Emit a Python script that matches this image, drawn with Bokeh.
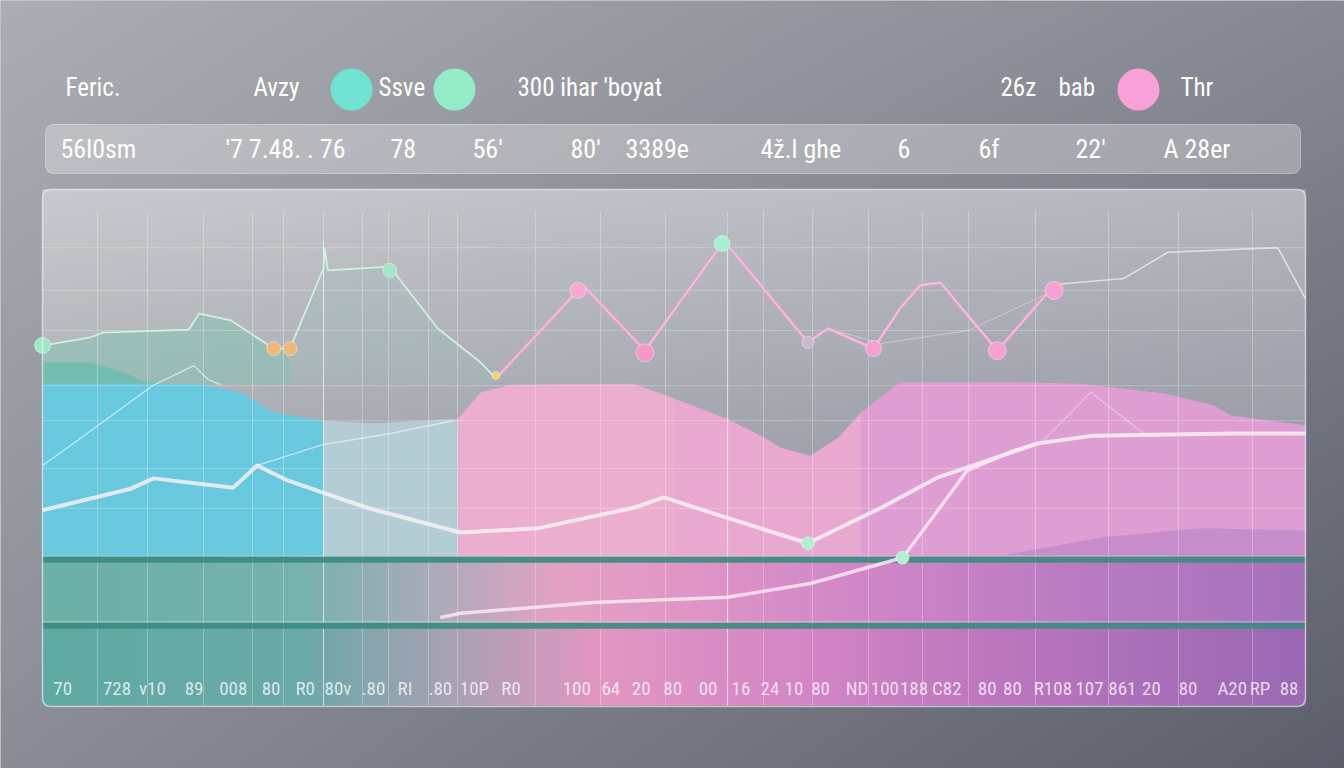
import numpy as np
from bokeh.plotting import figure
from bokeh.models import Range1d, BoxAnnotation
from bokeh.core.properties import value
from bokeh.embed import file_html
from bokeh.resources import INLINE

# ------------------------------------------------------------------ data
legend_labels = ["Feric.", "Avzy", "Ssve", "300 ihar 'boyat", "26z", "bab", "Thr"]
legend_swatches = ["#6fe2d3", "#93ecc6", "#f8a1d8"]
header_labels = ["56l0sm", "'7 7.48. . 76", "78", "56'", "80'", "3389e",
                 "4\u017e.l ghe", "6", "6f", "22'", "A 28er"]

# upper (marker) line
upper_x = [0, 3.8, 4.8, 11.6, 12.4, 13.9, 14.9, 18.3, 19.6, 22.25, 22.33, 22.6,
           27.5, 31.3, 34.7, 35.9, 42.4, 42.8, 47.7, 53.8, 54.5, 60.6, 62.2,
           65.8, 67.9, 69.5, 71.1, 75.6, 80.1, 80.8, 85.6, 89.1, 97.8, 100]
upper_y = [69.9, 71.5, 72.4, 73.0, 76.1, 75.3, 74.8, 69.3, 69.3, 84.9, 88.9, 84.5,
           85.2, 73.2, 66.6, 63.5, 80.6, 81.6, 68.9, 89.7, 88.7, 70.5, 73.2,
           69.3, 77.1, 81.6, 82.1, 68.9, 81.6, 81.9, 82.9, 88.0, 88.9, 79.0]
marker_x = [0, 18.3, 19.6, 27.5, 35.9, 42.4, 47.7, 53.8, 60.6, 65.8, 75.6, 80.1]
marker_y = [69.9, 69.3, 69.3, 84.5, 64.1, 80.6, 68.5, 89.7, 70.5, 69.3, 68.9, 80.6]

# middle (thick white) line
mid_x = [0, 7.0, 8.8, 15.1, 17.0, 19.4, 25.7, 33.1, 39.2, 46.8, 49.2, 53.1,
         60.6, 66.4, 70.9, 78.8, 83.2, 94.3, 100]
mid_y = [37.9, 42.1, 44.1, 42.3, 46.6, 43.7, 38.4, 33.6, 34.4, 38.4, 40.4, 37.3,
         31.5, 38.4, 44.3, 50.9, 52.4, 52.8, 52.8]
branch_x = [17.0, 22.25, 27.55, 32.5]
branch_y = [46.6, 50.7, 52.8, 55.3]

# lower line
low_x = [31.5, 33.1, 43.6, 54.2, 60.8, 68.1, 70.9, 73.2, 76.9, 78.8]
low_y = [17.1, 17.9, 20.0, 21.0, 23.7, 28.7, 37.9, 45.6, 49.5, 50.9]
low_marker = ([60.6, 68.1], [31.5, 28.7])

# thin lines
thin_x = [0, 2.8, 8.7, 12.0, 13.1, 14.1]
thin_y = [46.6, 51.5, 62.1, 66.0, 63.3, 62.3]
spike_x = [79.0, 83.0, 87.2]
spike_y = [50.9, 60.8, 52.8]
faint_x = [62.2, 66.4, 73.3, 80.1]
faint_y = [73.2, 70.3, 72.8, 80.6]

# areas
area_base = 29.1
dteal_x = [0, 3.8, 6.4, 7.8, 9.3]
dteal_y = [66.6, 66.6, 64.7, 63.1, 62.5]
teal_x = [0, 12.5, 15.7, 18.3, 22.25]
teal_y = [62.5, 62.5, 60.8, 56.9, 55.3]
pale_x = [22.25, 26.2, 32.9]
pale_y = [55.3, 54.8, 55.7]
pink_x = [32.9, 34.7, 37.1, 46.8, 50.0, 54.2, 56.9, 58.4, 60.8, 63.0, 64.8,
          67.9, 78.2, 82.2, 88.8, 92.7, 94.1, 100]
pink_y = [55.7, 60.8, 62.3, 62.5, 59.6, 55.7, 52.4, 50.1, 48.5, 52.0, 56.9,
          62.7, 62.7, 62.5, 60.6, 58.3, 56.3, 54.4]
shade_x = [75.9, 83.8, 91.7, 100]
shade_y = [29.1, 32.6, 34.4, 34.0]

# bands, grid, ticks
band_levels = [28.3, 15.5]
grid_x = [4.35, 8.31, 12.75, 16.63, 19.08, 22.25, 25.34, 27.40, 30.56, 32.86,
          39.03, 44.18, 49.33, 54.24, 57.09, 60.97, 65.40, 69.68, 73.32, 78.62,
          84.40, 89.94, 95.80]
grid_y = [88.9, 80.6, 72.8, 62.1, 55.3, 46.0, 38.3]
tick_labels = ["70", "728", "v10", "89", "008", "80", "R0", "80v", ".80", "RI",
               ".80", "10P", "R0", "100", "64", "20", "80", "00", "16", "24",
               "10", "80", "ND", "100", "188", "C82", "80", "80", "R108", "107",
               "861", "20", "80", "A20", "RP", "88"]
tick_x = [1.6, 5.9, 8.7, 12.0, 15.1, 18.1, 20.8, 23.4, 26.2, 28.7, 31.5, 34.2,
          37.1, 42.3, 45.0, 47.4, 49.9, 52.7, 55.3, 57.6, 59.5, 61.6, 64.5, 66.7,
          69.0, 71.6, 74.8, 76.8, 80.0, 82.9, 85.5, 87.8, 90.7, 94.2, 96.4, 98.7]

# ------------------------------------------------------------------ helpers
W, H = 1344, 768
FONT = value("Liberation Sans Narrow, Roboto Condensed, Roboto, sans-serif")


def rgb(h):
    return np.array([int(h[i:i + 2], 16) for i in (1, 3, 5)], float)


def to_img(col):
    hh, ww = col.shape[:2]
    a = np.zeros((hh, ww, 4), dtype=np.uint8)
    a[..., :3] = np.clip(col, 0, 255).astype(np.uint8)
    a[..., 3] = 255
    return a.view(np.uint32).reshape(hh, ww)


def stops(xs, pos, cols):
    c = np.array([rgb(k) for k in cols])
    return np.stack([np.interp(xs, pos, c[:, i]) for i in range(3)], axis=-1)


def PY(sy):  # page pixel row -> main y data
    return H - sy


p = figure(width=W, height=H, x_range=Range1d(0, W), y_range=Range1d(0, H),
           output_backend="svg", toolbar_location=None, min_border=0,
           x_axis_location=None, y_axis_location=None)
p.grid.visible = False
p.outline_line_color = None
p.background_fill_color = "#9a9ca4"
p.border_fill_color = "#9a9ca4"
# chart scale: x 0..100 -> px 42..1305 ; y 0..100 -> px 705..190
p.extra_x_ranges = {"cx": Range1d(-42 / 12.63, (W - 42) / 12.63)}
p.extra_y_ranges = {"cy": Range1d((705 - H) / 5.15, 705 / 5.15)}
C = dict(x_range_name="cx", y_range_name="cy")

# page background gradient
bw, bh = 336, 192
u = (((np.arange(bw) + 0.5) * W / bw) / W)[None, :, None]
v = ((H - (np.arange(bh) + 0.5) * H / bh) / H)[:, None, None]
tl, tr, bl, br = rgb("#acaeb4"), rgb("#868893"), rgb("#8a8d96"), rgb("#5c5f6b")
top = tl + (tr - tl) * u
bot = bl + (br - bl) * u
p.image_rgba(image=[to_img(top + (bot - top) * v)], x=0, y=0, dw=W, dh=H, level="image")

# panel interior gradient
pw, ph = 316, 130
sx = 42 + (np.arange(pw) + 0.5) / pw * 1263
sy = 705 - (np.arange(ph) + 0.5) / ph * 515.4
u = ((sx - 42) / 1263)[None, :, None]
v = np.clip((sy - 190) / 257, 0, 1)[:, None, None]
tl, tr, ml, mr = rgb("#c8cacf"), rgb("#b5b7be"), rgb("#abaeb4"), rgb("#999ca6")
top = tl + (tr - tl) * u
bot = ml + (mr - ml) * u
p.image_rgba(image=[to_img(top + (bot - top) * v)], x=0, y=0, dw=100, dh=100.2, **C)

# header bar and legend row
p.add_layout(BoxAnnotation(left=45, right=1300, bottom=PY(173), top=PY(124),
                           fill_color="white", fill_alpha=0.28, line_color="white",
                           line_alpha=0.35, border_radius=8, level="underlay"))
header_x = [60, 225, 390, 472, 570, 625, 760, 897, 978, 1075, 1163]
p.text(x=header_x, y=PY(148), text=header_labels, text_font=FONT,
       text_font_size="26px", text_color="white", text_baseline="middle",
       text_align="left")
legend_x = [65, 253, 378, 517, 1000, 1058, 1180]
p.text(x=legend_x, y=PY(87), text=legend_labels, text_font=FONT,
       text_font_size="25px", text_color="white", text_baseline="middle",
       text_align="left")
p.scatter(x=[351, 454, 1138], y=PY(89), size=42, fill_color=legend_swatches,
          line_color=None)

# areas
p.varea(x=dteal_x, y1=62.5, y2=dteal_y, fill_color="#63b6ab", fill_alpha=0.9, **C)
p.varea(x=upper_x[:9], y1=62.5, y2=upper_y[:9], fill_color="#7cc6b4",
        fill_alpha=0.45, **C)
p.varea(x=upper_x[8:16], y1=62.5, y2=upper_y[8:16], fill_color="#90c8bc",
        fill_alpha=0.2, **C)
p.varea(x=teal_x, y1=area_base, y2=teal_y, fill_color="#68c8de", **C)
p.varea(x=pale_x, y1=area_base, y2=pale_y, fill_color="#b4ccd3", **C)
p.varea(x=pink_x, y1=area_base, y2=pink_y, fill_color="#e9a8d0", **C)
p.varea(x=pink_x[:5], y1=area_base, y2=pink_y[:5], fill_color="#f6c0c8",
        fill_alpha=0.25, **C)
p.varea(x=pink_x[10:], y1=area_base, y2=pink_y[10:], fill_color="#c888d4",
        fill_alpha=0.3, **C)
p.varea(x=shade_x, y1=area_base, y2=shade_y, fill_color="#9e6cc0",
        fill_alpha=0.35, **C)

# lower banded zone gradient
zw, zh = 316, 75
sx = 42 + (np.arange(zw) + 0.5) / zw * 1263
sy = 705 - (np.arange(zh) + 0.5) / zh * 150
midc = stops(sx, [42, 300, 450, 560, 700, 900, 1100, 1305],
             ["#6cb0a8", "#76b2ae", "#b2aabb", "#e4a2c4", "#e094c6", "#cc84c6",
              "#b87ac2", "#a672bc"])
botc = stops(sx, [42, 300, 450, 600, 800, 1000, 1305],
             ["#5faaa3", "#6aa9a9", "#a8a2b4", "#e296c2", "#d486c6", "#bc76be",
              "#9a68b4"])
col = np.where((sy < 623)[:, None, None], midc[None, :, :], botc[None, :, :])
p.image_rgba(image=[to_img(col)], x=0, y=0, dw=100, dh=area_base, **C)

# grid
p.segment(x0=grid_x, y0=0, x1=grid_x, y1=96, line_color="white", line_alpha=0.28,
          line_width=1, **C)
p.segment(x0=0, y0=grid_y, x1=100, y1=grid_y, line_color="white", line_alpha=0.25,
          line_width=1, **C)
p.segment(x0=[22.25, 54.24], y0=0, x1=[22.25, 54.24], y1=[90, 90],
          line_color="white", line_alpha=0.45, line_width=1.2, **C)

# bands
p.segment(x0=0, y0=band_levels, x1=100, y1=band_levels, line_color="#3c8c80",
          line_alpha=0.92, line_width=6, **C)
p.segment(x0=0, y0=[b + 0.75 for b in band_levels], x1=100,
          y1=[b + 0.75 for b in band_levels], line_color="#cfeee8",
          line_alpha=0.55, line_width=1, **C)

# lines
p.line(thin_x, thin_y, line_color="#e0f6f6", line_alpha=0.8, line_width=1.2, **C)
p.line(spike_x, spike_y, line_color="white", line_alpha=0.55, line_width=1, **C)
p.line(faint_x, faint_y, line_color="white", line_alpha=0.35, line_width=1, **C)
p.line(branch_x, branch_y, line_color="white", line_alpha=0.55, line_width=1.5, **C)
p.line(mid_x, mid_y, line_color="#f6f0f3", line_alpha=0.85, line_width=4,
       line_join="round", **C)
p.line(low_x, low_y, line_color="#fae8f2", line_alpha=0.85, line_width=3.5,
       line_join="round", **C)
p.line(upper_x[:16], upper_y[:16], line_color="#d2f6e2", line_alpha=0.9,
       line_width=1.8, **C)
p.line(upper_x[15:30], upper_y[15:30], line_color="#f2a4d4", line_alpha=0.9,
       line_width=3.2, line_join="round", **C)
p.line(upper_x[15:30], upper_y[15:30], line_color="#fff0f8", line_alpha=0.6,
       line_width=1, **C)
p.line(upper_x[29:], upper_y[29:], line_color="#e6e6ee", line_alpha=0.85,
       line_width=1.6, **C)

marker_colors = ["#9ee8c6", "#f0b878", "#f0b878", "#a0e8c8", "#f0d070", "#f7a8d0",
                 "#f598c8", "#a8f0d0", "#c8b8d0", "#f5a0d0", "#f5a0d0", "#f7a0d2"]
marker_sizes = [16, 14, 14, 14, 8, 16, 18, 16, 12, 16, 18, 18]
p.scatter(marker_x, marker_y, size=marker_sizes, fill_color=marker_colors,
          line_color="white", line_alpha=0.4, **C)
p.scatter(low_marker[0], low_marker[1], size=13, fill_color="#b0f0d0",
          line_color="white", line_alpha=0.4, **C)

# bottom tick labels
p.text(x=tick_x, y=3.3, text=tick_labels, text_font=FONT, text_font_size="19px",
       text_color="white", text_alpha=0.75, text_align="center",
       text_baseline="middle", **C)

# panel border
p.add_layout(BoxAnnotation(left=42, right=1305, bottom=PY(706), top=PY(189),
                           fill_alpha=0, line_color="white", line_alpha=0.55,
                           line_width=1.5, border_radius=8))

open("out.html", "w").write(file_html(p, INLINE))
